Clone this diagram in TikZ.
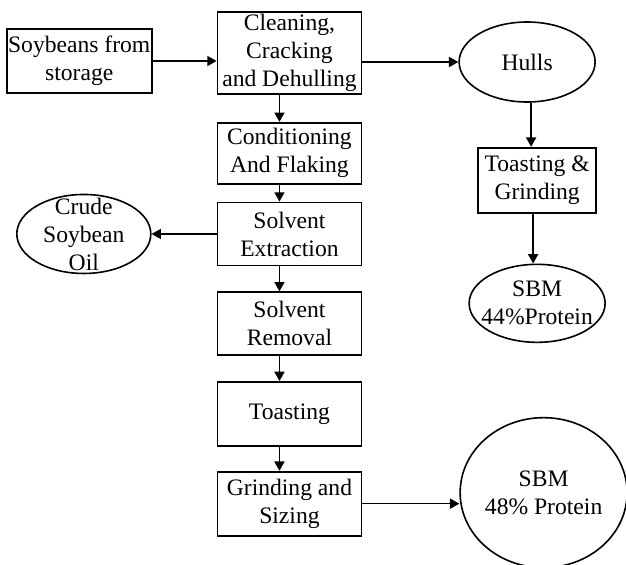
\documentclass[tikz,border=0pt]{standalone}
\usepackage{fontspec}
\setmainfont{Liberation Serif}
\usepackage{tikz}
\usetikzlibrary{shapes.geometric,arrows.meta,positioning}
\tikzset{
  stepbox/.style={rectangle,draw,line width=1.3pt,align=center,inner sep=0pt,
                  minimum width=108pt},
  prod/.style={ellipse,draw,line width=1.2pt,align=center,inner sep=-8pt},
  fl/.style={-{Triangle[length=7pt,width=7.5pt]},line width=1.2pt},
}

\begin{document}
\begin{tikzpicture}[every node/.style={font=\fontsize{17.7pt}{21pt}\selectfont}]
  \useasboundingbox (-217.1pt,39.75pt) rectangle (252.4pt,-384pt);
  \node[stepbox,minimum height=61.5pt] (clean) at (0,0) {Cleaning,\\Cracking\\and Dehulling};
  \node[stepbox,minimum width=108.75pt,minimum height=48pt,left=48pt of clean,yshift=-6pt] (soy) {Soybeans from\\storage};
  \node[stepbox,minimum height=45.75pt,below=20.25pt of clean] (cond) {Conditioning\\And Flaking};
  \node[stepbox,minimum height=47.25pt,below=12.75pt of cond] (extr) {Solvent\\Extraction};
  \node[stepbox,minimum height=47.25pt,below=18.75pt of extr] (remov) {Solvent\\Removal};
  \node[stepbox,minimum height=48pt,below=18.75pt of remov] (toast) {Toasting};
  \node[stepbox,minimum height=48pt,below=18pt of toast] (grind) {Grinding and\\Sizing};
  \node[prod,minimum width=102pt,minimum height=60pt,right=72pt of clean,yshift=-6.75pt] (hulls) {Hulls};
  \node[stepbox,minimum width=88.5pt,minimum height=48.75pt,below=33pt of hulls,xshift=7.5pt] (tg) {Toasting \&\\Grinding};
  \node[prod,minimum width=102pt,minimum height=58.5pt,below=37.5pt of tg] (sbm44) {SBM\\44\%Protein};
  \node[prod,minimum width=100.5pt,minimum height=59.25pt,left=48.75pt of extr] (oil) {Crude\\Soybean\\Oil};
  \node[prod,minimum width=125.25pt,minimum height=112.5pt,right=72.75pt of grind,yshift=8.25pt] (sbm48) {SBM\\48\% Protein};
  % flow
  \draw[fl] (soy.east) -- (soy.east -| clean.west);
  \draw[fl] (clean.east |- hulls.west) -- (hulls.west);
  \draw[fl] ([xshift=-7.5pt]clean.south) -- ([xshift=-7.5pt]cond.north);
  \draw[fl] ([xshift=-7.5pt]cond.south) -- ([xshift=-7.5pt]extr.north);
  \draw[fl] (extr.west) -- (extr.west -| oil.east);
  \draw[fl] ([xshift=-7.5pt]extr.south) -- ([xshift=-7.5pt]remov.north);
  \draw[fl] ([xshift=-7.5pt]remov.south) -- ([xshift=-7.5pt]toast.north);
  \draw[fl] ([xshift=-7.5pt]toast.south) -- ([xshift=-7.5pt]grind.north);
  \draw[fl] (grind.east) -- (grind.east -| sbm48.west);
  \draw[fl] ([xshift=3pt]hulls.south) -- ([xshift=-4.5pt]tg.north);
  \draw[fl] ([xshift=-3pt]tg.south) -- ([xshift=-3pt]sbm44.north);
\end{tikzpicture}
\end{document}
